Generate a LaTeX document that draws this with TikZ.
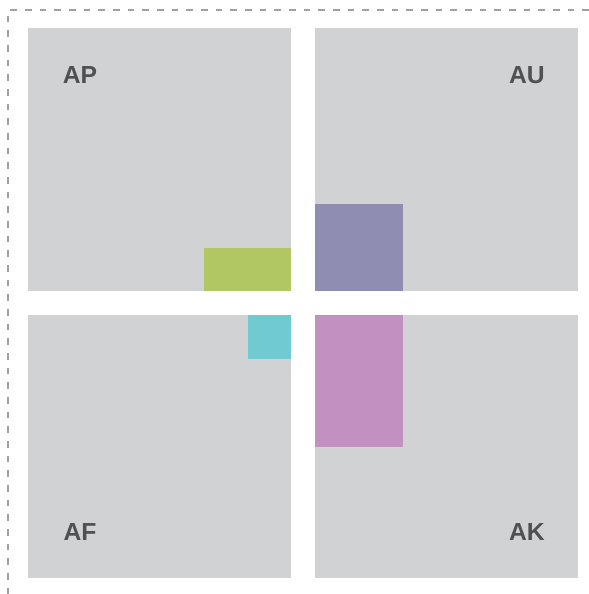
\documentclass[tikz,border=0pt]{standalone}
\usepackage{fontspec}
\setmainfont{Liberation Sans}
\usepackage{tikz}

\definecolor{quadgray}{RGB}{209,210,212}
\definecolor{labelgray}{RGB}{80,80,82}
\definecolor{tilegreen}{RGB}{176,199,100}
\definecolor{tilepurple}{RGB}{143,141,178}
\definecolor{tilecyan}{RGB}{111,203,209}
\definecolor{tilepink}{RGB}{195,144,194}

\tikzset{
  quadlabel/.style={inner sep=0.75pt, text=labelgray, font=\bfseries\fontsize{18.5}{20}\selectfont}
}

\begin{document}
\begin{tikzpicture}[x=0.75pt,y=0.75pt,yscale=-1,xscale=1]
\useasboundingbox (0,0) rectangle (589,594);

%Dashed frame
\draw [color={rgb, 255:red, 160; green, 160; blue, 162 }, dash pattern=on 5pt off 6pt, line width=0.9pt] (589,10) -- (8,10) -- (8,594) ;

%Quadrants
\fill [quadgray] (28,28) rectangle (291,291) ;
\fill [quadgray] (315,28) rectangle (578,291) ;
\fill [quadgray] (28,315) rectangle (291,578) ;
\fill [quadgray] (315,315) rectangle (578,578) ;

%Tiles
\fill [tilegreen] (203.5,248) rectangle (291,291) ;
\fill [tilepurple] (315,204) rectangle (402.5,291) ;
\fill [tilecyan] (247.5,315) rectangle (291,358.5) ;
\fill [tilepink] (315,315) rectangle (402.5,446.5) ;

% Text Nodes
\node [quadlabel] (ap) at (80,75.5) {AP};
\node [quadlabel] (au) at (527,75.5) {AU};
\node [quadlabel] (af) at (80,532.5) {AF};
\node [quadlabel] (ak) at (527,532.5) {AK};

\end{tikzpicture}
\end{document}
